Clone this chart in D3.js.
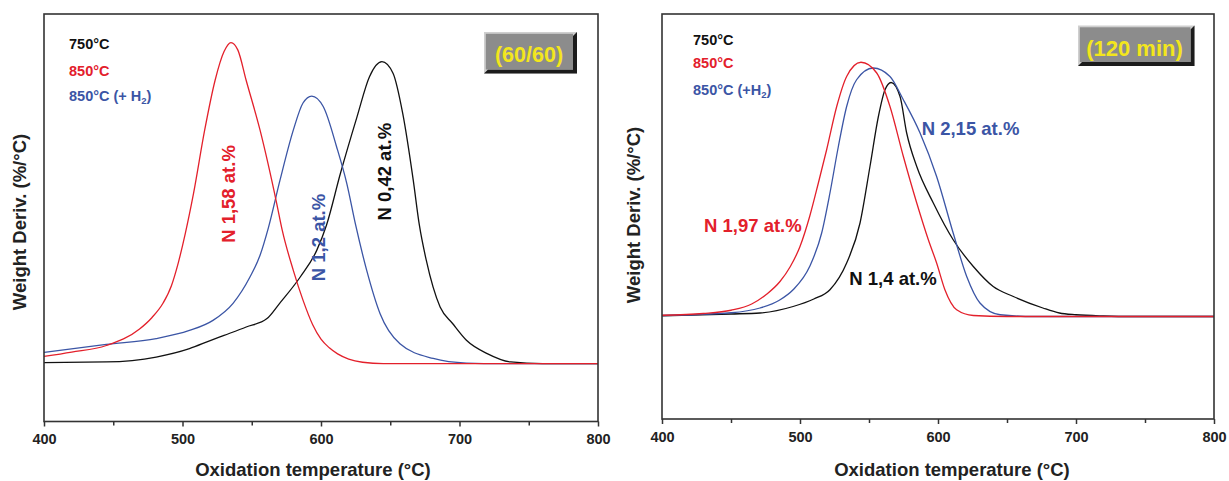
<!DOCTYPE html>
<html>
<head>
<meta charset="utf-8">
<script src="https://cdn.jsdelivr.net/npm/d3@7"></script>
<style>
  body { margin: 0; background: #fff; }
  svg text { font-family: "Liberation Sans", Arial, sans-serif; font-weight: bold; }
</style>
</head>
<body>
<svg id="chart" width="1229" height="481"></svg>
<script>
// values: [temperature °C, weight deriv. (arbitrary, 0 = baseline)]
var xTicks = [400, 500, 600, 700, 800];
var xMinor = [450, 550, 650, 750];

// panel (60/60)
var left750 = [[400,0.004],[445,0.006],[481,0.023],[505,0.052],[520,0.08],[530,0.098],[546,0.127],[561,0.156],
  [570,0.208],[585,0.30],[597,0.393],[604,0.48],[614,0.658],[626,0.854],[635,0.993],[644,1.045],[652,1.005],
  [659,0.866],[666.6,0.635],[671,0.48],[676,0.358],[686,0.196],[695,0.139],[705,0.081],[720,0.035],[737,0.006],
  [760,0],[800,0]];
var left850 = [[400,0.025],[420,0.04],[445,0.063],[469,0.12],[478,0.16],[486,0.21],[492,0.27],[497,0.35],
  [502,0.45],[508,0.59],[516,0.808],[523.5,0.98],[530,1.08],[535,1.111],[540,1.085],[546,0.98],[556,0.808],
  [568,0.555],[572,0.462],[580,0.323],[587,0.22],[594,0.135],[600,0.085],[606,0.055],[612,0.034],[620,0.016],
  [630,0.005],[645,0],[800,0]];
var left850H2 = [[400,0.039],[445,0.067],[481,0.087],[505,0.115],[522,0.15],[536.5,0.209],[548.7,0.30],[556,0.375],
  [562,0.47],[570.4,0.635],[580,0.808],[587,0.902],[593.3,0.926],[601.7,0.889],[611.3,0.75],[618.6,0.624],
  [625,0.48],[633,0.323],[642.6,0.174],[657,0.069],[681,0.018],[705,0.002],[730,0],[800,0]];

// panel (120 min)
var right750 = [[400,0.003],[450,0.01],[471,0.014],[495,0.04],[510,0.07],[521.7,0.107],[533.8,0.214],[543.5,0.374],
  [550.7,0.6],[556.8,0.8],[561.6,0.907],[566,0.936],[572.5,0.88],[577.3,0.734],[584.6,0.6],[596.6,0.454],
  [611,0.307],[625.6,0.2],[640,0.12],[654.6,0.08],[676,0.034],[688,0.014],[700,0.007],[720,0.002],[740,0],[800,0]];
var right850 = [[400,0.005],[430,0.012],[450,0.025],[465,0.05],[476,0.09],[485.5,0.14],[493,0.2],[500,0.28],
  [507,0.40],[513.3,0.534],[519.3,0.667],[526.6,0.84],[533.8,0.96],[544.2,1.017],[555.6,0.974],[565.2,0.84],
  [574.9,0.64],[584.6,0.454],[593,0.307],[599,0.214],[605,0.107],[613.5,0.027],[625.6,0.004],[650,0],[800,0]];
var right850H2 = [[400,0.004],[450,0.015],[471,0.034],[485,0.065],[495,0.107],[507,0.2],[515.7,0.334],[521.7,0.494],
  [527.8,0.68],[533.8,0.84],[541,0.947],[553,0.994],[565.2,0.96],[574.9,0.867],[587,0.734],[599,0.56],[611,0.334],
  [620.8,0.16],[630.4,0.054],[645,0.007],[670,0],[800,0]];

var legendLabels = ['750°C', '850°C', '850°C (+ H', '850°C (+H'];
var red = '#e3202b', blue = '#3b55a5', black = '#111';

var svg = d3.select('#chart');

function drawPanel(p) {
  var x = d3.scaleLinear().domain([400, 800]).range([p.x0, p.x1]);
  var y = d3.scaleLinear().domain(p.ydom).range([p.y1, p.y0]);
  var g = svg.append('g');

  var line = d3.line()
    .x(function(d){ return x(d[0]); })
    .y(function(d){ return y(d[1]); })
    .curve(d3.curveMonotoneX);

  p.series.forEach(function(s){
    g.append('path').datum(s.data)
      .attr('fill', 'none')
      .attr('stroke', s.color)
      .attr('stroke-width', 1.3)
      .attr('d', line);
  });

  // frame
  g.append('rect')
    .attr('x', p.x0).attr('y', p.y0)
    .attr('width', p.x1 - p.x0).attr('height', p.y1 - p.y0)
    .attr('fill', 'none').attr('stroke', '#333').attr('stroke-width', 1.6);

  var axis = g.append('g').attr('transform', 'translate(0,' + p.y1 + ')')
    .call(d3.axisBottom(x).tickValues(xTicks).tickSize(5).tickPadding(7.5).tickFormat(d3.format('d')));
  axis.select('.domain').remove();
  axis.selectAll('line').attr('stroke', '#333').attr('stroke-width', 1.5);
  axis.selectAll('text').attr('font-size', 14.5).attr('fill', '#222')
    .style('font-family', '"Liberation Sans", Arial, sans-serif').style('font-weight', 'bold');

  var minor = g.append('g').attr('transform', 'translate(0,' + p.y1 + ')')
    .call(d3.axisBottom(x).tickValues(xMinor).tickSize(4).tickFormat(''));
  minor.select('.domain').remove();
  minor.selectAll('line').attr('stroke', '#333').attr('stroke-width', 1.5);

  g.append('text').attr('x', p.xTitleX).attr('y', 476).attr('text-anchor', 'middle')
    .attr('font-size', 18.5).attr('fill', '#222').text('Oxidation temperature (°C)');

  g.append('text').attr('transform', 'translate(' + p.yTitleX + ',' + p.yTitleY + ') rotate(-90)')
    .attr('text-anchor', 'middle').attr('font-size', 18.5).attr('fill', '#222')
    .text('Weight Deriv. (%/°C)');

  // legend
  var colors = [black, red, blue];
  p.legend.forEach(function(txt, i){
    var t = g.append('text').attr('x', p.legX).attr('y', p.legY[i])
      .attr('font-size', 14.5).attr('fill', colors[i]).text(txt);
    if (i === 2) {
      t.append('tspan').attr('font-size', 9.5).attr('dy', 3).text('2');
      t.append('tspan').attr('dy', -3).text(')');
    }
  });

  // bevelled tag box
  var b = p.box, bx0 = b.x0, bx1 = b.x1, by0 = b.y0, by1 = b.y1, e = 4;
  g.append('rect').attr('x', bx0).attr('y', by0).attr('width', bx1 - bx0).attr('height', by1 - by0)
    .attr('fill', '#cfcfcf');
  g.append('polygon')
    .attr('points', [[bx1,by0],[bx1,by1],[bx0,by1],[bx0+e,by1-e],[bx1-e,by1-e],[bx1-e,by0+e]].join(' '))
    .attr('fill', '#1c1c1c');
  g.append('rect').attr('x', bx0 + 1.8).attr('y', by0 + 1.8)
    .attr('width', bx1 - bx0 - e - 1.8).attr('height', by1 - by0 - e - 1.8)
    .attr('fill', '#8c8c8c');
  g.append('text').attr('x', b.tx).attr('y', b.ty).attr('text-anchor', 'middle')
    .attr('font-size', b.fs).attr('fill', '#f3e61c').text(b.text);

  // in-plot annotations
  p.notes.forEach(function(n){
    var t = g.append('text').attr('font-size', 18.5).attr('fill', n.color).text(n.text);
    if (n.rot) {
      t.attr('transform', 'translate(' + n.x + ',' + n.y + ') rotate(-90)').attr('text-anchor', 'middle');
    } else {
      t.attr('x', n.x).attr('y', n.y);
    }
  });
}

drawPanel({
  x0: 44, x1: 598, y0: 14, y1: 421.5, ydom: [-0.2, 1.21],
  series: [{data: left750, color: black}, {data: left850H2, color: blue}, {data: left850, color: red}],
  xTitleX: 313, yTitleX: 26, yTitleY: 222,
  legX: 69, legY: [48.5, 75.5, 101], legend: [legendLabels[0], legendLabels[1], legendLabels[2]],
  box: {x0: 484, x1: 577, y0: 32, y1: 73.5, tx: 529, ty: 62, fs: 21.5, text: '(60/60)'},
  notes: [
    {text: 'N 1,58 at.%', color: red, x: 235, y: 194, rot: true},
    {text: 'N 1,2 at.%', color: blue, x: 325, y: 237.5, rot: true},
    {text: 'N 0,42 at.%', color: black, x: 391, y: 171.7, rot: true}
  ]
});

drawPanel({
  x0: 662, x1: 1214, y0: 14, y1: 419, ydom: [-0.41, 1.21],
  series: [{data: right750, color: black}, {data: right850H2, color: blue}, {data: right850, color: red}],
  xTitleX: 952, yTitleX: 640, yTitleY: 215,
  legX: 693, legY: [45, 67.5, 95], legend: [legendLabels[0], legendLabels[1], legendLabels[3]],
  box: {x0: 1078, x1: 1194.5, y0: 25.5, y1: 66, tx: 1134.5, ty: 55.5, fs: 22, text: '(120 min)'},
  notes: [
    {text: 'N 2,15 at.%', color: blue, x: 921.7, y: 135},
    {text: 'N 1,97 at.%', color: red, x: 704, y: 231.7},
    {text: 'N 1,4 at.%', color: black, x: 849.3, y: 285}
  ]
});
</script>
</body>
</html>
